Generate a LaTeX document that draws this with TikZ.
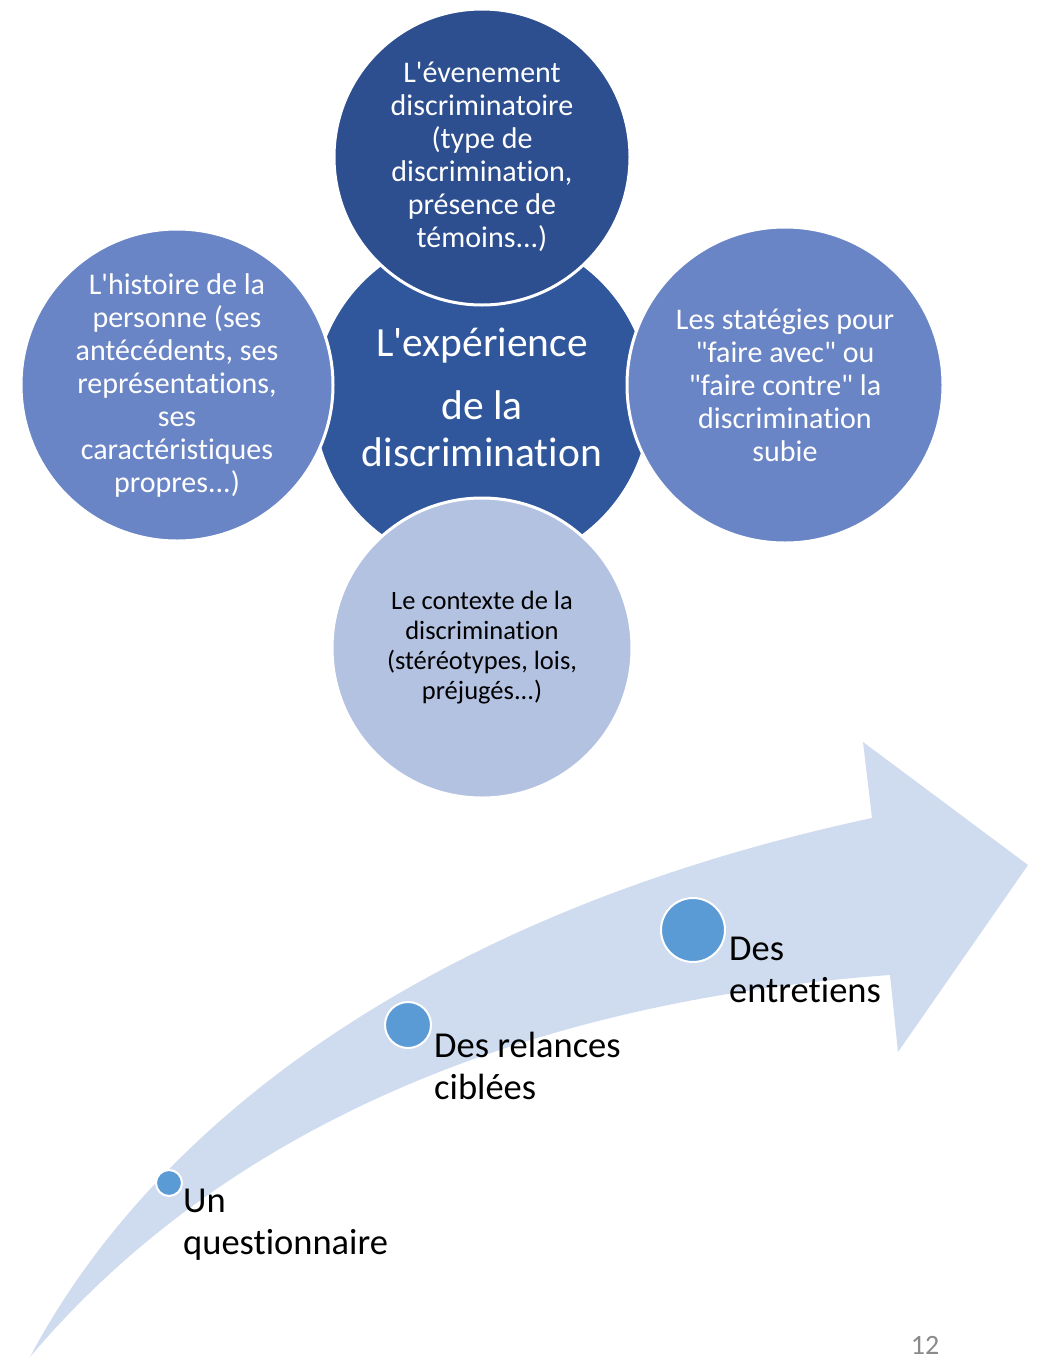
\documentclass[tikz,border=0pt]{standalone}
\usepackage{fontspec}
\setmainfont{Carlito}[Ligatures=CommonOff]
\usepackage{tikz}
\usetikzlibrary{positioning}
\definecolor{coreblue}{HTML}{30569B}
\definecolor{topblue}{HTML}{2E4F8F}
\definecolor{sideblue}{HTML}{6A85C5}
\definecolor{lowblue}{HTML}{B4C2E1}
\definecolor{bandblue}{HTML}{CFDBEE}
\definecolor{dotblue}{HTML}{5B9BD5}
\definecolor{pagegray}{HTML}{8A8A8A}
\newcommand{\sq}{\textquotesingle}
\newcommand{\dq}{\textquotedbl}

\begin{document}
\begin{tikzpicture}[x=1pt,y=-1pt,
  bubble/.style={circle,draw=white,line width=3pt,inner sep=0pt,minimum size=#1},
  dot/.style={circle,draw=white,line width=2pt,fill=dotblue,inner sep=0pt,minimum size=#1},
  btext/.style={align=center,text=white,font=\fontsize{30}{33}\selectfont},
  steplbl/.style={align=left,anchor=north west,inner sep=0pt,font=\fontsize{36.5}{42}\selectfont}]
  \useasboundingbox (0,0) rectangle (1043,1360);
  % curved arrow
  \fill[bandblue] (30,1357) .. controls (150,1130) and (420,915) .. (872,818)
    -- (863,742) -- (1028,865) -- (898,1052) -- (890,975)
    .. controls (540,1000) and (230,1120) .. (30,1357) -- cycle;
  % circles
  \node[bubble=338,fill=coreblue](core) at (482,400){};
  \node[bubble=296,fill=topblue](event) at (482,157){};
  \node[bubble=312,fill=sideblue](story) at (177,385){};
  \node[bubble=316,fill=sideblue](cope) at (785,385){};
  \node[bubble=300,fill=lowblue](ctx) at (482,648){};
  \node[align=center,text=white,font=\fontsize{41.5}{47}\selectfont] at (482,397)
    {L\sq expérience\\[16pt]de la\\discrimination};
  \node[btext] at (event) {L\sq évenement\\discriminatoire\\(type de\\discrimination,\\présence de\\témoins...)};
  \node[btext] at (story) {L\sq histoire de la\\personne (ses\\antécédents, ses\\représentations,\\ses\\caractéristiques\\propres...)};
  \node[btext] at (cope) {Les statégies pour\\\dq faire avec\dq{} ou\\\dq faire contre\dq{} la\\discrimination\\subie};
  \node[align=center,font=\fontsize{26.5}{30}\selectfont] at (ctx) {Le contexte de la\\discrimination\\(stéréotypes, lois,\\préjugés...)};
  % steps on the arrow
  \node[dot=26](d1) at (169,1183){};
  \node[dot=46](d2) at (408,1025){};
  \node[dot=64](d3) at (693,930){};
  \node[steplbl](s1) at (183,1189) {Un\\questionnaire};
  \node[steplbl](s2) at (434,1032) {Des relances\\ciblées};
  \node[steplbl](s3) at (729,937) {Des\\entretiens};
  \node[text=pagegray,inner sep=0pt,font=\fontsize{28}{30}\selectfont](pg) at (925,1345) {12};
\end{tikzpicture}
\end{document}
